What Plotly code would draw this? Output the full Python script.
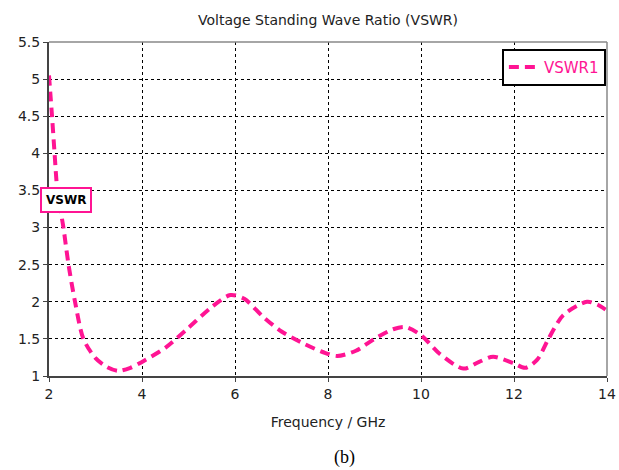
import plotly.graph_objects as go

freq = [2.0, 2.065, 2.12, 2.18, 2.31, 2.42, 2.56, 2.74, 3.0, 3.25, 3.49, 3.75, 4.0, 4.5, 5.0, 5.5, 5.9, 6.2, 6.6, 7.0, 7.5, 7.9, 8.2, 8.6, 9.0, 9.4, 9.66, 10.0, 10.4, 10.91, 11.25, 11.55, 12.0, 12.24, 12.5, 12.74, 13.06, 13.57, 13.8, 14.0]
vswr = [5.05, 4.5, 4.0, 3.5, 3.0, 2.5, 2.0, 1.5, 1.24, 1.12, 1.07, 1.11, 1.19, 1.38, 1.65, 1.93, 2.09, 2.04, 1.8, 1.6, 1.43, 1.32, 1.27, 1.34, 1.5, 1.63, 1.66, 1.55, 1.3, 1.1, 1.19, 1.26, 1.17, 1.11, 1.22, 1.5, 1.82, 2.0, 1.96, 1.88]

pink = "#FF1493"
fig = go.Figure()
fig.add_trace(go.Scatter(x=freq, y=vswr, mode="lines", name="VSWR1",
                         line=dict(color=pink, width=4, dash="10px,6px", shape="spline", smoothing=0.8)))

fig.update_layout(
    width=619, height=470,
    margin=dict(l=49, r=12, t=42, b=94, autoexpand=False),
    paper_bgcolor="white", plot_bgcolor="white",
    font=dict(family="DejaVu Sans", color="#222"),
    title=dict(text="Voltage Standing Wave Ratio (VSWR)", x=0.53, xanchor="center",
               y=0.957, yanchor="middle", font=dict(size=14, family="DejaVu Sans", color="#222")),
    xaxis=dict(range=[2, 14], tickvals=[2, 4, 6, 8, 10, 12, 14], showgrid=True,
               gridcolor="black", griddash="dot", gridwidth=1, automargin=False,
               showline=True, linecolor="#444", linewidth=2, mirror=False,
               ticks="outside", ticklen=4, tickcolor="#444", zeroline=False,
               tickfont=dict(size=14, family="DejaVu Sans"),
               title=dict(text="Frequency / GHz", font=dict(size=14, family="DejaVu Sans"), standoff=16)),
    yaxis=dict(range=[1, 5.5], tickvals=[1, 1.5, 2, 2.5, 3, 3.5, 4, 4.5, 5, 5.5],
               ticktext=["1", "1.5", "2", "2.5", "3", "3.5", "4", "4.5", "5", "5.5"],
               showgrid=True, gridcolor="black", griddash="dot", gridwidth=1, automargin=False,
               showline=True, linecolor="#444", linewidth=2, zeroline=False,
               ticks="outside", ticklen=4, tickcolor="#444",
               tickfont=dict(size=14, family="DejaVu Sans")),
    legend=dict(x=0.998, y=0.98, xanchor="right", yanchor="top", bgcolor="white",
                bordercolor="black", borderwidth=2, font=dict(size=15, color=pink, family="DejaVu Sans")),
    showlegend=True,
)
# top/right frame
fig.add_shape(type="line", xref="paper", yref="paper", x0=0, x1=1, y0=1, y1=1, line=dict(color="#888", width=1.5))
fig.add_shape(type="line", xref="paper", yref="paper", x0=1, x1=1, y0=0, y1=1, line=dict(color="#888", width=1.5))

fig.add_annotation(x=2.37, y=3.37, xref="x", yref="y", text="<b>VSWR</b>", showarrow=False,
                   xanchor="center", yanchor="middle", font=dict(size=12, color="black", family="DejaVu Sans"),
                   bgcolor="white", bordercolor=pink, borderwidth=2, borderpad=4)
fig.add_annotation(x=0.53, y=-0.245, xref="paper", yref="paper", text="(b)", showarrow=False,
                   xanchor="center", yanchor="middle", font=dict(size=18, color="black", family="Liberation Serif"))

fig.write_html("out.html")
